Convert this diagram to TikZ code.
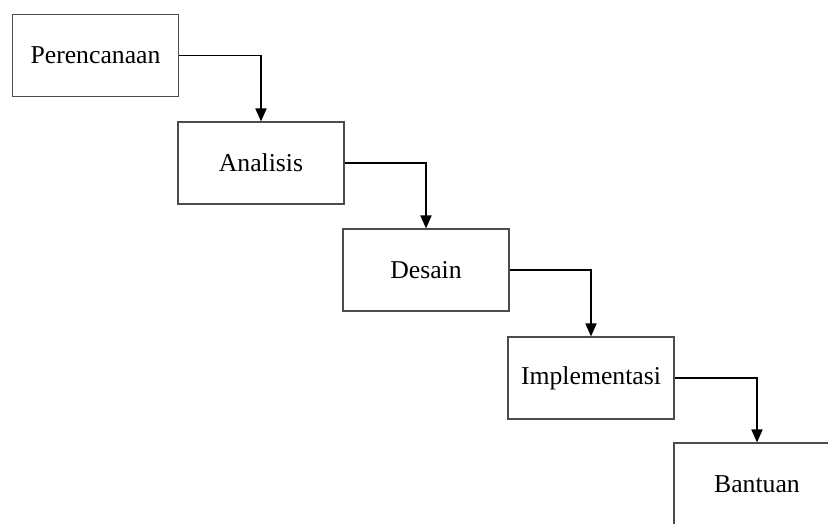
\documentclass[tikz,border=0pt]{standalone}
\usepackage{fontspec}
\setmainfont{Liberation Serif}
\usetikzlibrary{arrows.meta}
\begin{document}
\begin{tikzpicture}[x=1pt,y=-1pt,
  stagebox/.style={draw=black!70, line width=1.1pt, minimum width=166pt, minimum height=82pt,
    inner sep=0pt, font=\fontsize{25.7}{30}\selectfont},
  flow/.style={line width=1.8pt, -{Triangle[length=13pt,width=11pt]}}]
\useasboundingbox (0,0) rectangle (828,523);
\clip (0,0) rectangle (828,523);
\node[stagebox] (p) at (95.5,55.5) {Perencanaan};
\node[stagebox] (a) at (261,163) {Analisis};
\node[stagebox] (d) at (426,270) {Desain};
\node[stagebox] (i) at (591,378) {Implementasi};
\node[stagebox] (b) at (757,484) {Bantuan};
\draw[flow] (p.east) -| (a.north);
\draw[flow] (a.east) -| (d.north);
\draw[flow] (d.east) -| (i.north);
\draw[flow] (i.east) -| (b.north);
\end{tikzpicture}
\end{document}
